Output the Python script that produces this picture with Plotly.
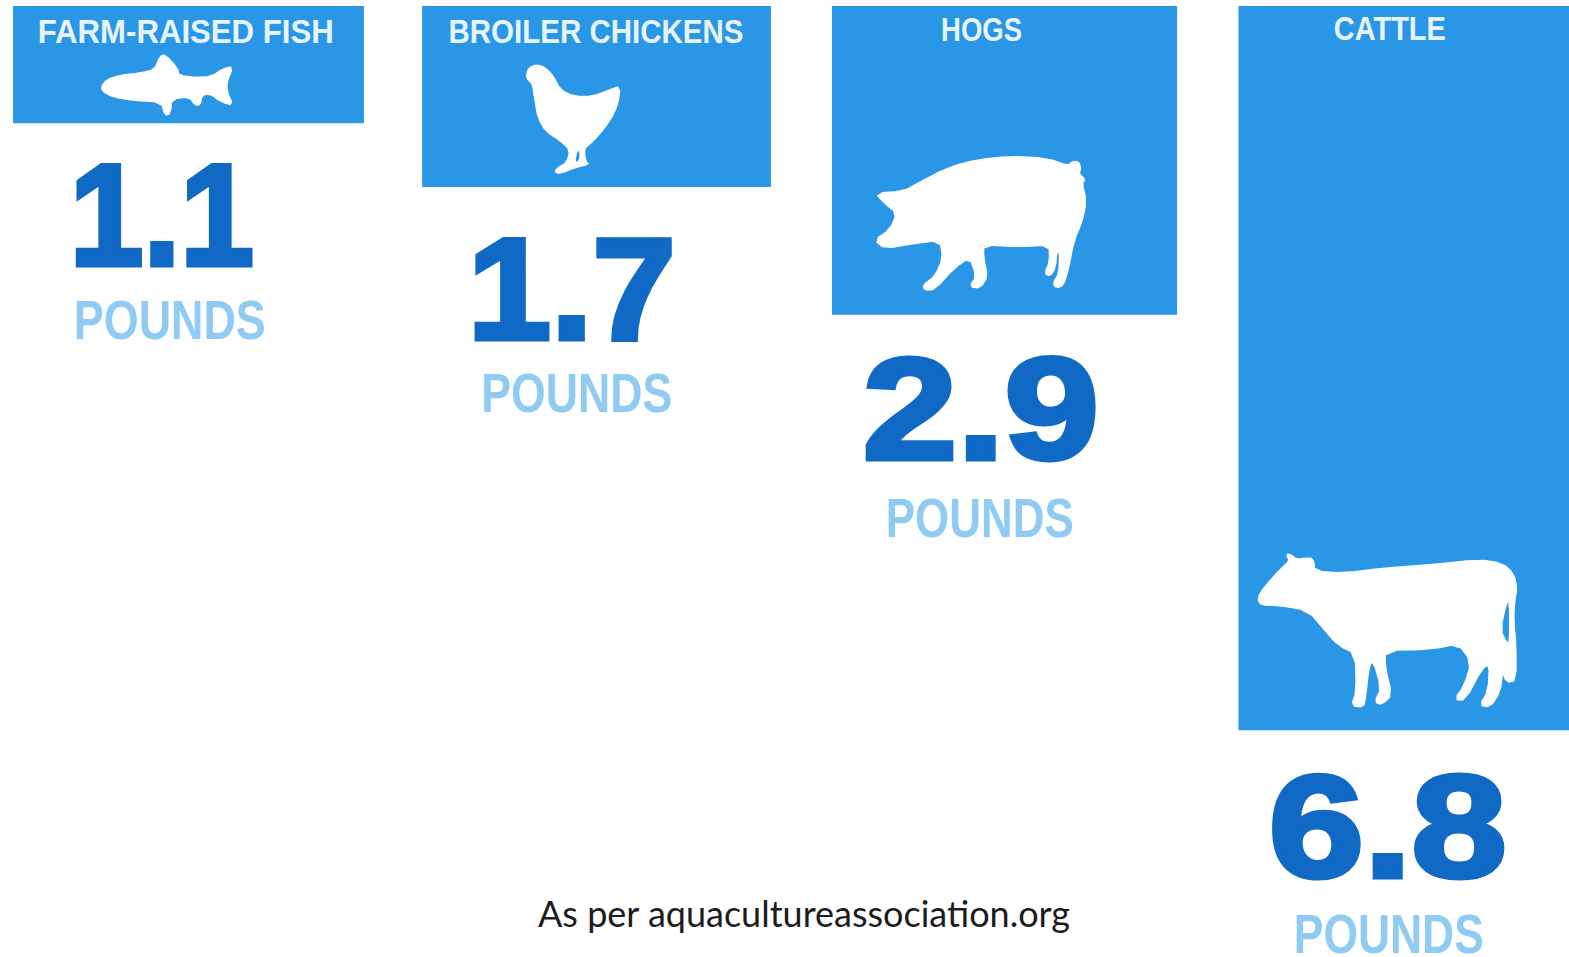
import json
import plotly.graph_objects as go

W, H = 1569, 957
categories = ["FARM-RAISED FISH", "BROILER CHICKENS", "HOGS", "CATTLE"]
pounds = [1.1, 1.7, 2.9, 6.8]
value_labels = ["1.1", "1.7", "2.9", "6.8"]
unit_label = "POUNDS"
source_note = "As per aquacultureassociation.org"

BAR = "#2A96E6"
NUM = "#1169C6"
UNIT = "#8FCBF3"

# layout
bar_widths = [0.860, 0.855, 0.846, 0.853]
num_dx = [-27, -25, -24, -25]
num_dy = [92, 102, 94, 97]
unit_dx = [-19, -20, -25, -24]
unit_dy = [196, 205, 203, 203]
label_dx = [-3, -1, -23, -23]
label_y = [32, 31, 30, 29]
num_len = [184, 208, 236, 238]
label_len = [296, 295, 81, 112]
unit_len = [192, 191, 188, 190]

PX_PER_UNIT = 106.5
TOP = 6
SPACING = 408.0
X0 = 188.5


def smooth(p, n=1):
    for _ in range(n):
        q = []
        for i in range(len(p)):
            a, b = p[i], p[(i + 1) % len(p)]
            q.append((0.75 * a[0] + 0.25 * b[0], 0.75 * a[1] + 0.25 * b[1]))
            q.append((0.25 * a[0] + 0.75 * b[0], 0.25 * a[1] + 0.75 * b[1]))
        p = q
    return p


def poly(ox, oy, pts, holes=()):
    def sub(p):
        return "M" + " L".join(
            f"{(ox + x / 3) / W:.5f},{1 - (oy + y / 3) / H:.5f}" for x, y in smooth(p)
        ) + " Z"
    return " ".join([sub(pts)] + [sub(h) for h in holes])


fish = [(35,125),(50,105),(90,92),(150,85),(195,75),(210,35),(225,30),(262,70),(265,92),(320,98),(365,95),(400,72),(428,66),(410,110),(410,140),(428,180),(395,170),(360,145),(335,150),(330,178),(315,180),(300,155),(245,160),(240,205),(225,210),(215,170),(130,165),(70,155),(40,140)]
chicken = [(50,60),(58,38),(80,30),(105,38),(130,65),(150,105),(190,125),(250,125),(300,105),(330,95),(322,150),(300,195),(265,240),(235,270),(222,280),(225,318),(235,328),(200,335),(150,355),(135,350),(145,338),(170,325),(182,285),(150,255),(110,230),(85,190),(75,130),(68,85),(55,75)]
chicken_hole = [(200,285),(192,325),(210,320),(212,285)]
pig = [(48,145),(130,140),(170,118),(260,70),(350,45),(450,35),(560,40),(630,65),(632,52),(655,50),(662,72),(655,85),(675,105),(665,110),(678,170),(665,230),(640,290),(625,370),(610,420),(590,428),(580,415),(598,385),(600,320),(590,315),(585,370),(570,392),(555,385),(570,350),(568,298),(480,305),(370,298),(370,340),(382,395),(360,428),(330,425),(350,395),(330,335),(280,370),(225,432),(195,435),(190,420),(225,395),(250,340),(240,285),(160,295),(75,310),(45,285),(90,255),(112,205),(75,175)]
cow = [(38,160),(60,125),(110,70),(135,48),(125,30),(135,28),(155,45),(180,40),(205,42),(208,80),(300,85),(420,70),(560,60),(700,45),(770,55),(805,85),(815,130),(808,165),(805,230),(812,300),(812,405),(785,412),(772,375),(765,440),(735,485),(705,480),(730,440),(735,355),(710,370),(660,465),(630,462),(660,420),(680,350),(640,295),(560,312),(420,315),(420,370),(440,450),(410,478),(390,470),(410,430),(385,345),(372,360),(360,460),(355,485),(320,482),(335,440),(332,325),(280,300),(240,255),(190,195),(100,180),(50,180)]
cow_hole = [(785,165),(765,255),(785,295),(795,295),(795,170)]

icons = [
    poly(90, 45, fish),
    poly(510, 55, chicken, [chicken_hole]),
    poly(860, 145, pig),
    poly(1245, 545, cow, [cow_hole]),
]

xs = list(range(len(categories)))
fig = go.Figure(go.Bar(x=xs, y=pounds, width=bar_widths, marker=dict(color=BAR, line=dict(width=0)),
                       hoverinfo="skip"))

ann = []
lengths = []
for i, cat in enumerate(categories):
    ann.append(dict(x=i, y=1 - label_y[i] / H, xref="x", yref="paper", text=cat,
                    showarrow=False, xshift=label_dx[i], xanchor="center", yanchor="middle",
                    font=dict(family="Liberation Sans", size=33, weight="bold", color="#E8F4FD")))
    lengths.append(label_len[i])
    ann.append(dict(x=i, y=pounds[i], xref="x", yref="y", text=value_labels[i],
                    showarrow=False, xshift=num_dx[i], yshift=-num_dy[i], xanchor="center", yanchor="middle",
                    font=dict(family="Liberation Sans", size=145, weight="bold", color=NUM)))
    lengths.append(num_len[i])
    ann.append(dict(x=i, y=pounds[i], xref="x", yref="y", text=unit_label,
                    showarrow=False, xshift=unit_dx[i], yshift=-unit_dy[i], xanchor="center", yanchor="middle",
                    font=dict(family="Liberation Sans", size=56, weight="bold", color=UNIT)))
    lengths.append(unit_len[i])
ann.append(dict(x=804 / W, y=1 - 913 / H, xref="paper", yref="paper", text=source_note, showarrow=False,
                xanchor="center", yanchor="middle", font=dict(family="Lato", size=36, color="#1C1C1C")))
lengths.append(532)

fig.update_layout(
    width=W, height=H, autosize=False, showlegend=False,
    margin=dict(l=0, r=0, t=0, b=0),
    paper_bgcolor="white", plot_bgcolor="white",
    xaxis=dict(range=[-X0 / SPACING, (W - X0) / SPACING], visible=False),
    yaxis=dict(range=[(H - TOP) / PX_PER_UNIT, -TOP / PX_PER_UNIT], visible=False),
    annotations=ann,
    shapes=[dict(type="path", xref="paper", yref="paper", path=p, fillcolor="white",
                 line=dict(color="white", width=2), layer="above") for p in icons],
)

post = """
document.body.style.margin='0';document.body.style.overflow='hidden';
var L=%s;
document.querySelectorAll('.annotation-text').forEach(function(t,i){
  t.setAttribute('textLength',L[i]);t.setAttribute('lengthAdjust','spacingAndGlyphs');
  if(parseFloat(t.style.fontSize)>100){t.style.stroke=t.style.fill;t.style.strokeWidth='5px';}
});
""" % json.dumps(lengths)
fig.write_html("out.html", post_script=post, config=dict(displayModeBar=False))
